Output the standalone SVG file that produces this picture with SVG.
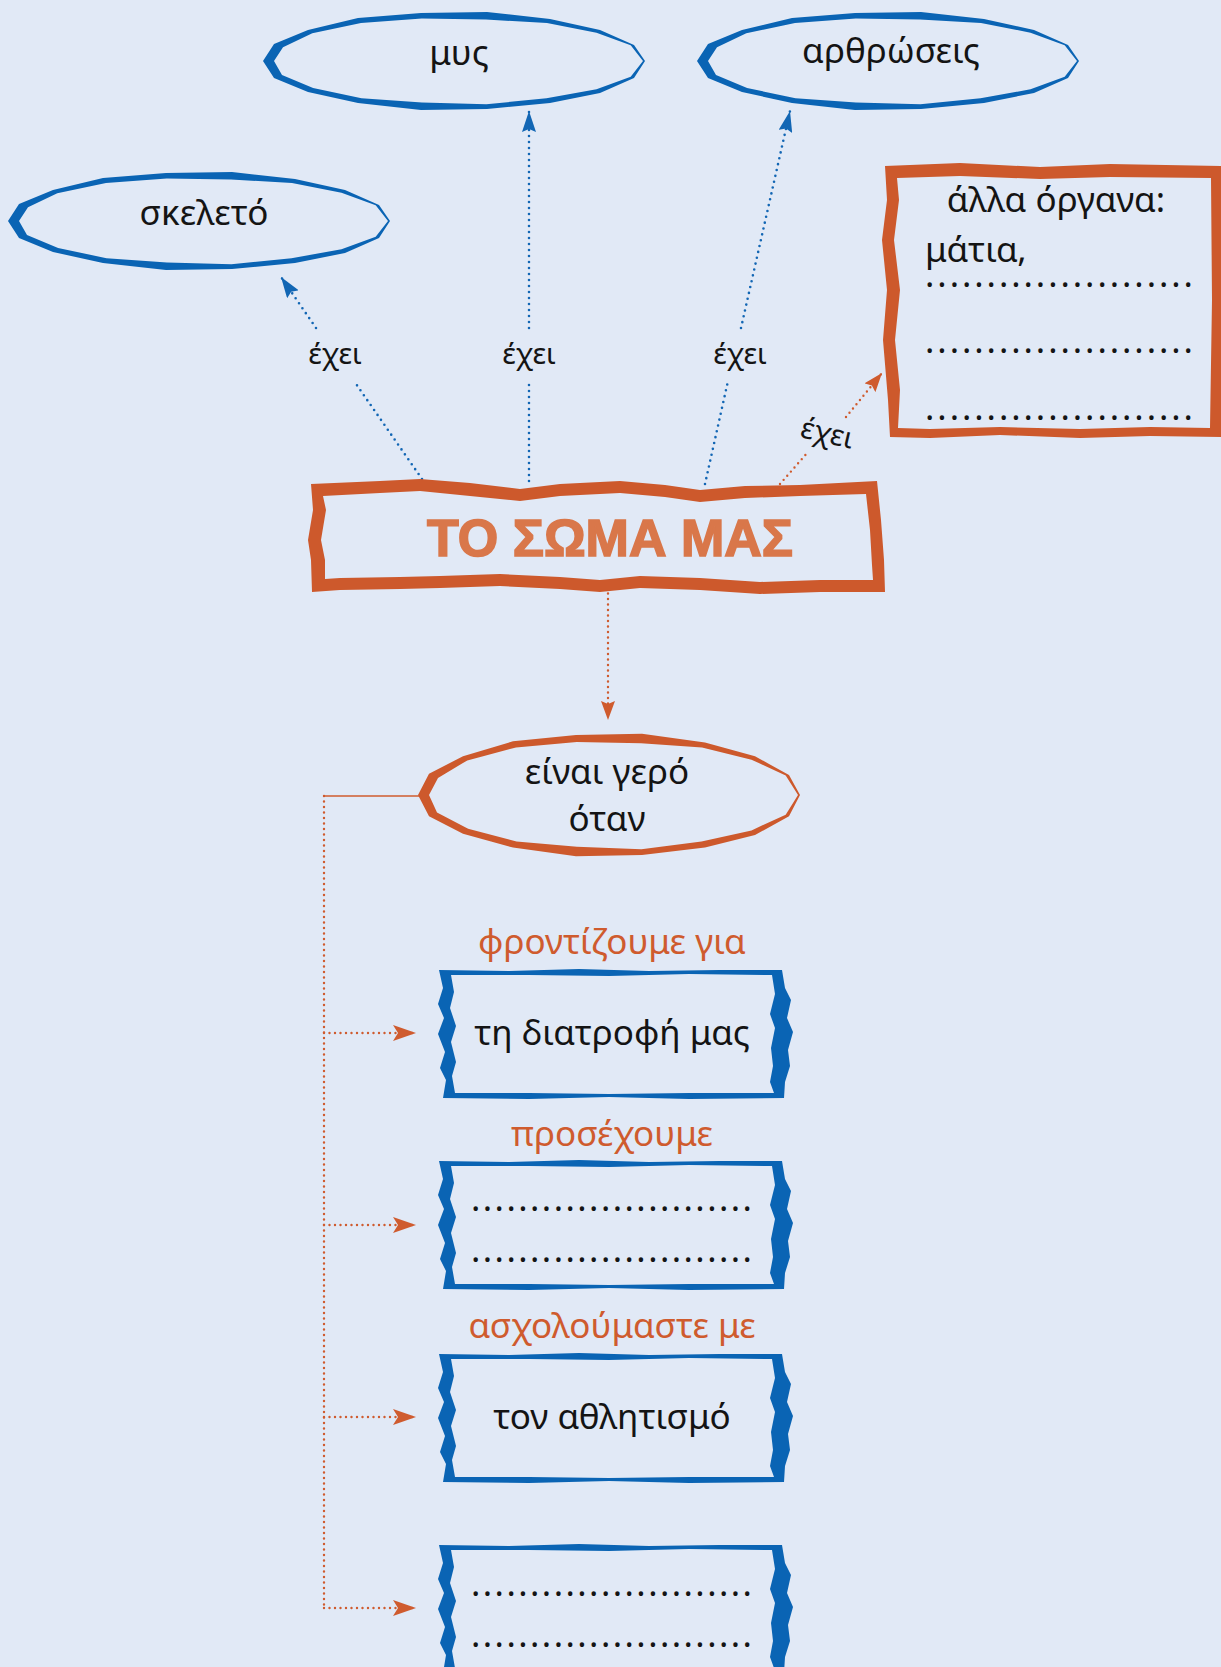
<svg xmlns="http://www.w3.org/2000/svg" xmlns:xlink="http://www.w3.org/1999/xlink" width="1221" height="1667" viewBox="0 0 1221 1667">
<style>
.t{font-family:"Noto Sans","DejaVu Sans",sans-serif;font-size:35px;fill:#141414;text-anchor:middle}
.lbl{font-size:29px}
.or{fill:#CF5B2E}
.dots{text-anchor:start}
.title{font-family:"Liberation Sans",Arial,sans-serif;font-weight:bold;font-size:52px;fill:#D9774A;stroke:#D9774A;stroke-width:1.6;text-anchor:middle}
.cb{stroke:#1266B4;stroke-width:2.6;stroke-dasharray:0 6;stroke-linecap:round;fill:none}
.co{stroke:#CF5B2E;stroke-width:2.4;stroke-dasharray:0 5.5;stroke-linecap:round;fill:none}
.blue{fill:#0A64B4;fill-rule:evenodd}
.orange{fill:#CD592C;fill-rule:evenodd}
</style>
<defs>
<marker id="ab" markerUnits="userSpaceOnUse" markerWidth="22" markerHeight="14" refX="21" refY="7" orient="auto"><path d="M0,0 L21,7 L0,14 L3,7 Z" fill="#1266B4"/></marker>
<marker id="ao" markerUnits="userSpaceOnUse" markerWidth="20" markerHeight="14" refX="19" refY="7" orient="auto"><path d="M0,0 L19,7 L0,14 L3,7 Z" fill="#CF5B2E"/></marker>
<marker id="aob" markerUnits="userSpaceOnUse" markerWidth="24" markerHeight="16" refX="23" refY="8" orient="auto"><path d="M0,0 L23,8 L0,16 L5,8 Z" fill="#CF5B2E"/></marker>
<path id="oval" d="M191,0 L180,17 L146,32 L96,42 L33,48 L-33,49 L-96,42 L-146,31 L-180,17 L-191,0 L-180,-17 L-146,-31 L-96,-43 L-33,-48 L33,-49 L96,-42 L146,-31 L180,-16 Z M189,0 L176.7,15.7 L142.5,28.3 L92.5,37.2 L32.4,43.3 L-32,41.4 L-92.5,37.2 L-140.9,27 L-172,14 L-180,0 L-171,-13.7 L-141.7,-27.7 L-93,-38.1 L-32.2,-42.4 L32,-41.4 L93,-38.1 L142.5,-28.3 L176.7,-15.7 Z"/>
<path id="bbox" d="M0,0 L70,1 L140,-1 L210,1 L280,0 L343,0 L346,18 L352,30 L348,48 L354,62 L349,80 L351,96 L346,112 L345,128 L250,129 L170,127 L90,129 L4,128 L7,110 L1,98 L6,82 L-1,64 L5,48 L-1,34 L4,18 Z M12,5 L90,5 L170,6 L250,4 L333,5 L336,24 L331,44 L336,58 L332,78 L334,96 L331,112 L335,123 L250,123 L170,124 L90,123 L16,123 L13,106 L17,92 L12,72 L17,56 L11,38 L15,22 Z"/>
</defs>
<rect x="0" y="0" width="1221" height="1667" fill="#E1E9F6"/>

<g id="connectors">
<path class="cb" d="M422,479 L354,381"/>
<path class="cb" d="M316,328 L281,277" marker-end="url(#ab)"/>
<path class="cb" d="M529,481 L529,384"/>
<path class="cb" d="M529,328 L529,111" marker-end="url(#ab)"/>
<path class="cb" d="M705,484 L728,381"/>
<path class="cb" d="M741,328 L790,111" marker-end="url(#ab)"/>
<path class="co" d="M780,484 L808,452"/>
<path class="co" d="M846,417 L882,373" marker-end="url(#ao)"/>
<path class="co" d="M608,588 L608,720" marker-end="url(#ao)"/>
<path d="M420,796 L324,796" stroke="#CF5B2E" stroke-width="1.6" fill="none"/>
<path class="co" d="M324,796 L324,1609"/>
<path class="co" d="M324,1033 L416,1033" marker-end="url(#aob)"/>
<path class="co" d="M324,1225 L416,1225" marker-end="url(#aob)"/>
<path class="co" d="M324,1417 L416,1417" marker-end="url(#aob)"/>
<path class="co" d="M324,1608 L416,1608" marker-end="url(#aob)"/>
<text class="t lbl" x="335" y="364">έχει</text>
<text class="t lbl" x="529" y="364">έχει</text>
<text class="t lbl" x="740" y="364">έχει</text>
<text class="t lbl" x="827" y="443" transform="rotate(13 827 434)">έχει</text>
</g>

<g id="node-mys">
<use xlink:href="#oval" class="blue" transform="translate(454,61)"/>
<text class="t" x="459" y="65">μυς</text>
</g>
<g id="node-arthroseis">
<use xlink:href="#oval" class="blue" transform="translate(888,61)"/>
<text class="t" x="891" y="63">αρθρώσεις</text>
</g>
<g id="node-skeleto">
<use xlink:href="#oval" class="blue" transform="translate(199,221)"/>
<text class="t" x="204" y="225">σκελετό</text>
</g>
<g id="node-alla">
<path class="orange" d="M885,166 L960,163 L1040,167 L1110,164 L1221,166 L1221,437 L1150,436 L1080,438 L1000,435 L930,438 L890,437 L888,400 L883,340 L887,290 L882,240 L887,200 Z M897,178 L960,176 L1040,179 L1110,177 L1211,178 L1212,300 L1210,428 L1150,427 L1080,429 L1000,427 L930,429 L898,428 L900,390 L895,340 L900,290 L894,240 L899,200 Z"/>
<text class="t" x="1056" y="212">άλλα όργανα:</text>
<text class="t dots" x="925" y="262">μάτια,</text>
<text class="t dots" x="925" y="287" textLength="268" lengthAdjust="spacing">......................</text>
<text class="t dots" x="925" y="353" textLength="268" lengthAdjust="spacing">......................</text>
<text class="t dots" x="925" y="420" textLength="268" lengthAdjust="spacing">......................</text>
</g>
<g id="node-title">
<path class="orange" d="M311,484 L380,481 L420,479 L470,483 L520,489 L560,484 L620,481 L665,485 L700,490 L745,486 L800,485 L877,481 L881,520 L884,560 L885,592 L820,592 L760,594 L700,590 L640,588 L600,592 L560,589 L500,586 L440,588 L400,589 L340,590 L312,592 L311,560 L308,540 L313,510 Z M323,496 L380,493 L420,491 L470,496 L520,501 L560,496 L620,493 L665,497 L700,502 L745,498 L800,496 L866,494 L870,530 L872,565 L873,580 L820,580 L760,582 L700,578 L640,576 L600,580 L560,577 L500,574 L440,576 L400,577 L340,578 L325,579 L325,560 L321,540 L326,510 Z"/>
<text class="title" x="610" y="556">ΤΟ ΣΩΜΑ ΜΑΣ</text>
</g>
<g id="node-gero">
<use xlink:href="#oval" class="orange" transform="translate(609,795) scale(1,1.25)"/>
<text class="t" x="607" y="784">είναι γερό</text>
<text class="t" x="607" y="831">όταν</text>
</g>
<g id="node-diatrofi">
<text class="t or" x="612" y="954">φροντίζουμε για</text>
<use xlink:href="#bbox" class="blue" transform="translate(439,970)"/>
<text class="t" x="612" y="1045">τη διατροφή μας</text>
</g>
<g id="node-prosexoume">
<text class="t or" x="612" y="1146">προσέχουμε</text>
<use xlink:href="#bbox" class="blue" transform="translate(439,1161)"/>
<text class="t dots" x="471" y="1211" textLength="281" lengthAdjust="spacing">........................</text>
<text class="t dots" x="471" y="1262" textLength="281" lengthAdjust="spacing">........................</text>
</g>
<g id="node-athlitismo">
<text class="t or" x="612" y="1338">ασχολούμαστε με</text>
<use xlink:href="#bbox" class="blue" transform="translate(439,1354)"/>
<text class="t" x="612" y="1429">τον αθλητισμό</text>
</g>
<g id="node-last">
<use xlink:href="#bbox" class="blue" transform="translate(439,1545)"/>
<text class="t dots" x="471" y="1596" textLength="281" lengthAdjust="spacing">........................</text>
<text class="t dots" x="471" y="1647" textLength="281" lengthAdjust="spacing">........................</text>
</g>
</svg>
